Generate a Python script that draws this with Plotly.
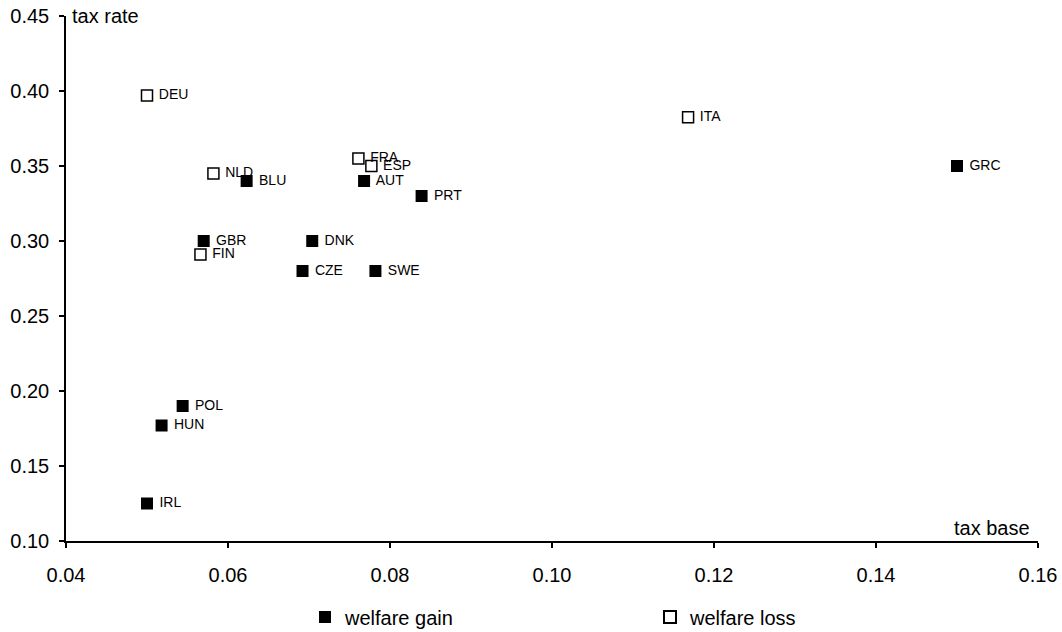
import plotly.graph_objects as go

# welfare gain (filled squares)
gain_names = ["BLU", "AUT", "PRT", "GBR", "DNK", "CZE", "SWE", "POL", "HUN", "IRL", "GRC"]
gain_base = [0.0623, 0.0768, 0.0839, 0.0570, 0.0704, 0.0692, 0.0782, 0.0544, 0.0518, 0.0500, 0.1500]
gain_rate = [0.340, 0.340, 0.330, 0.300, 0.300, 0.280, 0.280, 0.190, 0.177, 0.125, 0.350]

# welfare loss (open squares)
loss_names = ["DEU", "NLD", "FRA", "ESP", "FIN", "ITA"]
loss_base = [0.0500, 0.0582, 0.0761, 0.0777, 0.0566, 0.1168]
loss_rate = [0.397, 0.345, 0.355, 0.350, 0.291, 0.3825]

x_ticks = [0.04, 0.06, 0.08, 0.10, 0.12, 0.14, 0.16]
y_ticks = [0.10, 0.15, 0.20, 0.25, 0.30, 0.35, 0.40, 0.45]

FONT = "Liberation Sans, Arial, sans-serif"

W, H = 1062, 632

fig = go.Figure()
fig.add_trace(go.Scatter(
    x=gain_base, y=gain_rate, mode="markers+text", name="welfare gain",
    text=[" " + n for n in gain_names], textposition="middle right",
    textfont=dict(size=14, color="black", family=FONT),
    marker=dict(symbol="square", size=12, color="black", line=dict(width=0)),
    cliponaxis=False,
))
fig.add_trace(go.Scatter(
    x=loss_base, y=loss_rate, mode="markers+text", name="welfare loss",
    text=[" " + n for n in loss_names], textposition="middle right",
    textfont=dict(size=14, color="black", family=FONT),
    marker=dict(symbol="square", size=11, color="white", line=dict(width=1.5, color="black")),
    cliponaxis=False,
))

axis_common = dict(
    showgrid=False, zeroline=False, showline=True, linecolor="black", linewidth=1.5,
    ticks="outside", ticklen=5, tickwidth=1.5, tickcolor="black",
    tickfont=dict(size=20, color="black", family=FONT), tickformat=".2f",
)
fig.update_xaxes(range=[0.04, 0.16], tickvals=x_ticks, ticklabelstandoff=10, **axis_common)
fig.update_yaxes(range=[0.10, 0.45], tickvals=y_ticks, ticklabelstandoff=6, **axis_common)

fig.add_annotation(text="tax rate", xref="paper", yref="paper", x=0, y=1,
                   xanchor="left", yanchor="middle", xshift=4, showarrow=False,
                   font=dict(size=20, color="black", family=FONT))
fig.add_annotation(text="tax base", xref="paper", yref="paper", x=1, y=0,
                   xanchor="right", yanchor="middle", xshift=-6, yshift=13, showarrow=False,
                   font=dict(size=20, color="black", family=FONT))

fig.update_layout(
    width=W, height=H,
    margin=dict(l=66, r=24, t=16, b=91, autoexpand=False),
    paper_bgcolor="white", plot_bgcolor="white",
    font=dict(family=FONT, color="black"),
    showlegend=True,
    legend=dict(orientation="h", xref="container", yref="container",
                x=305 / W, y=15 / H, xanchor="left", yanchor="middle",
                entrywidth=300, entrywidthmode="pixels",
                font=dict(size=20, color="black", family=FONT),
                bgcolor="rgba(0,0,0,0)", itemsizing="constant"),
)

# remove the browser's default 8px body margin so the figure fills the window
fig.write_html("out.html",
               config={"displayModeBar": False},
               post_script="document.body.style.margin='0';document.body.style.overflow='hidden';")
